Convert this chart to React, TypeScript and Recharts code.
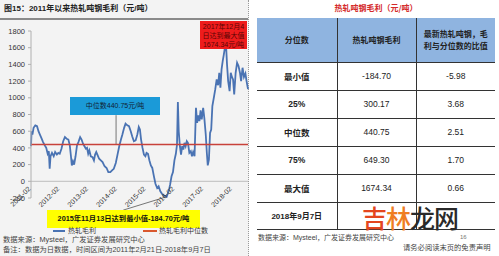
import React from 'react';
import { LineChart, Line, XAxis, YAxis, ReferenceLine } from 'recharts';

// ---- data (fractional year, gross profit per ton, CNY) ----
const timeYears = [
  2011.14, 2011.16, 2011.19, 2011.23, 2011.29, 2011.35, 2011.40, 2011.45, 2011.50, 2011.56,
  2011.62, 2011.67, 2011.72, 2011.76, 2011.79, 2011.82, 2011.87, 2011.93, 2011.98, 2012.04,
  2012.09, 2012.14, 2012.20, 2012.26, 2012.32, 2012.38, 2012.44, 2012.49, 2012.53, 2012.56,
  2012.60, 2012.64, 2012.69, 2012.74, 2012.79, 2012.85, 2012.90, 2012.95, 2013.00, 2013.05,
  2013.09, 2013.13, 2013.17, 2013.22, 2013.28, 2013.33, 2013.37, 2013.41, 2013.46, 2013.51,
  2013.57, 2013.63, 2013.70, 2013.77, 2013.83, 2013.90, 2013.96, 2014.02, 2014.09, 2014.15,
  2014.21, 2014.27, 2014.32, 2014.38, 2014.43, 2014.49, 2014.55, 2014.61, 2014.66, 2014.72,
  2014.78, 2014.84, 2014.89, 2014.93, 2014.97, 2015.02, 2015.07, 2015.12, 2015.16, 2015.21,
  2015.26, 2015.31, 2015.36, 2015.41, 2015.47, 2015.53, 2015.58, 2015.64, 2015.70, 2015.76,
  2015.86, 2015.93, 2015.98, 2016.03, 2016.08, 2016.13, 2016.18, 2016.22, 2016.25, 2016.28,
  2016.32, 2016.36, 2016.40, 2016.44, 2016.48, 2016.52, 2016.56, 2016.60, 2016.65, 2016.70,
  2016.74, 2016.78, 2016.83, 2016.88, 2016.92, 2016.96, 2017.00, 2017.04, 2017.08, 2017.13,
  2017.17, 2017.22, 2017.26, 2017.29, 2017.33, 2017.37, 2017.41, 2017.45, 2017.50, 2017.55,
  2017.60, 2017.65, 2017.69, 2017.73, 2017.77, 2017.81, 2017.85, 2017.92, 2017.96, 2018.00,
  2018.05, 2018.09, 2018.13, 2018.17, 2018.21, 2018.26, 2018.31, 2018.36, 2018.41, 2018.45,
  2018.50, 2018.55, 2018.60, 2018.64, 2018.69,
];
const grossProfit = [
  420, 600, 560, 640, 670, 660, 600, 560, 520, 470,
  430, 400, 330, 360, 150, 300, 340, 300, 350, 320,
  340, 330, 390, 480, 530, 510, 500, 430, 300, 190,
  240, 200, 300, 430, 470, 530, 500, 450, 420, 390,
  400, 330, 370, 300, 290, 250, 320, 350, 310, 270,
  250, 230, 180, 160, 110, 110, 130, 150, 220, 320,
  420, 500, 560, 640, 690, 670, 660, 600, 540, 480,
  490, 560, 650, 620, 500, 400, 320, 300, 340, 330,
  250, 190, 160, 70, -30, -80, -60, -120, -150, -170,
  -184.7, -120, -40, 60, 110, 250, 330, 440, 950, 600,
  420, 320, 420, 380, 460, 420, 480, 460, 340, 360,
  300, 350, 300, 880, 700, 790, 720, 850, 740, 880,
  760, 560, 330, 190, 260, 580, 620, 900, 1000, 1100,
  1220, 1150, 1300, 1120, 1340, 1440, 1520, 1674.34, 1400, 1200,
  1080, 1300, 1250, 1220, 1040, 1300, 1420, 1380, 1300, 1200,
  1360, 1250, 1290, 1200, 1104.5,
];
const medianValue = 440.75;
const xTicks = [2011.14, 2012.14, 2013.14, 2014.14, 2015.14, 2016.14, 2017.14, 2018.14];
const xTickLabels = ['2011-02', '2012-02', '2013-02', '2014-02', '2015-02', '2016-02', '2017-02', '2018-02'];
const yTicks = [-200, 0, 200, 400, 600, 800, 1000, 1200, 1400, 1600, 1800];

const tableHeader = ['分位数', '热轧吨钢毛利', '最新热轧吨钢，毛\n利与分位数的比值'];
const rowLabels = ['最小值', '25%', '中位数', '75%', '最大值', '2018年9月7日'];
const rowProfit = ['-184.70', '300.17', '440.75', '649.30', '1674.34', ''];
const rowRatio = ['-5.98', '3.68', '2.51', '1.70', '0.66', ''];

const data = timeYears.map((t, i) => ({ t, v: grossProfit[i] }));

// ---- layout ----
const Y_MIN = -200;
const Y_MAX = 1800;
const PLOT_TOP = 31;
const PLOT_H = 167;
const ZERO_Y = PLOT_TOP + (PLOT_H * (Y_MAX - 0)) / (Y_MAX - Y_MIN);

const MIX = '"Liberation Sans", "Noto Sans CJK SC", Arial, sans-serif';
const CJK = '"Noto Sans CJK SC", "Liberation Sans", sans-serif';

const XTick = (props: any) => {
  const { x, payload } = props;
  const idx = xTicks.indexOf(payload.value);
  const y = ZERO_Y + 8;
  return (
    <text
      x={x}
      y={y}
      transform={`rotate(-45 ${x} ${y})`}
      textAnchor="end"
      fontSize={7}
      fontFamily={MIX}
      fill="#333"
    >
      {xTickLabels[idx]}
    </text>
  );
};

const abs = (l: number, t: number, extra: React.CSSProperties = {}): React.CSSProperties => ({
  position: 'absolute',
  left: l,
  top: t,
  ...extra,
});

const cellBase: React.CSSProperties = {
  padding: 0,
  textAlign: 'center',
  verticalAlign: 'middle',
  color: '#222',
};

export default function App() {
  return (
    <div style={{ position: 'absolute', left: 0, top: 0, width: 499, height: 256, background: '#fff', overflow: 'hidden' }}>
      {/* left panel */}
      <div style={abs(0, 0, { width: 249, height: 256, background: '#f3f3f3' })} />
      <div style={abs(248, 0, { width: 0, height: 256, borderLeft: '1px dotted #9a9a9a' })} />
      <div style={abs(4, 3, { fontFamily: MIX, fontSize: 8, fontWeight: 700, color: '#222', whiteSpace: 'nowrap', lineHeight: '12px' })}>
        图15：2011年以来热轧吨钢毛利（元/吨）
      </div>
      <div style={abs(0, 18, { width: 248, height: 2, background: '#8a8a8a' })} />

      <div style={abs(0, 0)}>
        <LineChart width={249} height={256} data={data} margin={{ top: PLOT_TOP, right: 1, bottom: 28, left: 0 }}>
          <XAxis
            dataKey="t"
            type="number"
            domain={[2011.14, 2018.69]}
            ticks={xTicks}
            tick={<XTick />}
            axisLine={false}
            tickLine={false}
            height={30}
            interval={0}
          />
          <YAxis
            type="number"
            domain={[Y_MIN, Y_MAX]}
            ticks={yTicks}
            width={31}
            interval={0}
            tickSize={3}
            tickMargin={3}
            axisLine={{ stroke: '#b0b0b0' }}
            tickLine={{ stroke: '#b0b0b0' }}
            tick={{ fontSize: 7.5, fill: '#333', fontFamily: MIX }}
          />
          <ReferenceLine y={0} stroke="#bdbdbd" strokeWidth={1} />
          <ReferenceLine
            segment={[{ x: 2014.1, y: 792 }, { x: 2014.1, y: medianValue }]}
            stroke="#555"
            strokeWidth={0.8}
          />
          <ReferenceLine
            segment={[{ x: 2014.35, y: -345 }, { x: 2015.86, y: -184.7 }]}
            stroke="#555"
            strokeWidth={0.8}
            ifOverflow="visible"
          />
          <Line
            type="linear"
            dataKey="v"
            stroke="#4a73b3"
            strokeWidth={1.8}
            dot={false}
            isAnimationActive={false}
          />
          <ReferenceLine y={medianValue} stroke="#c8413a" strokeWidth={1.5} />
        </LineChart>
      </div>

      {/* annotations */}
      <div style={abs(200, 21, { width: 47, height: 28, background: '#ee1c1c', color: '#5a0505', fontFamily: MIX, fontSize: 7, lineHeight: '9px', textAlign: 'center', whiteSpace: 'nowrap', overflow: 'hidden', paddingTop: 1, boxSizing: 'border-box' })}>
        2017年12月4<br />日达到最大值<br />1674.34元/吨
      </div>
      <div style={abs(70, 97, { width: 90, height: 18, background: '#1b9ad8', color: '#123', fontFamily: MIX, fontSize: 7, lineHeight: '18px', textAlign: 'center', whiteSpace: 'nowrap' })}>
        中位数440.75元/吨
      </div>
      <div style={abs(47, 210, { width: 153, height: 18, background: '#ffff00', color: '#111', fontFamily: MIX, fontSize: 7.3, fontWeight: 700, lineHeight: '18px', textAlign: 'center', whiteSpace: 'nowrap' })}>
        2015年11月13日达到最小值-184.70元/吨
      </div>

      {/* legend */}
      <div style={abs(53, 230, { width: 12, height: 1.5, background: '#4a73b3' })} />
      <div style={abs(68, 225, { fontFamily: CJK, fontSize: 7, lineHeight: '11px', color: '#333', whiteSpace: 'nowrap' })}>热轧毛利</div>
      <div style={abs(143, 230, { width: 14, height: 1.5, background: '#d9582e' })} />
      <div style={abs(159, 225, { fontFamily: CJK, fontSize: 7, lineHeight: '11px', color: '#333', whiteSpace: 'nowrap' })}>热轧毛利中位数</div>

      {/* footnotes */}
      <div style={abs(3, 235, { fontFamily: MIX, fontSize: 7.3, lineHeight: '10px', color: '#444', whiteSpace: 'nowrap' })}>
        数据来源：Mysteel，广发证券发展研究中心
      </div>
      <div style={abs(3, 245, { fontFamily: MIX, fontSize: 7.3, lineHeight: '10px', color: '#444', whiteSpace: 'nowrap' })}>
        备注：数据为日数据，时间区间为2011年2月21日-2018年9月7日
      </div>

      {/* right panel */}
      <div style={abs(257, 2, { width: 238, textAlign: 'center', fontFamily: CJK, fontSize: 8, fontWeight: 700, lineHeight: '12px', color: '#d42a2a', whiteSpace: 'nowrap' })}>
        热轧吨钢毛利（元/吨）
      </div>
      <table
        style={abs(257, 18, {
          width: 238,
          borderCollapse: 'collapse',
          tableLayout: 'fixed',
          fontFamily: MIX,
          fontSize: 8.5,
        })}
      >
        <colgroup>
          <col style={{ width: 80 }} />
          <col style={{ width: 79 }} />
          <col style={{ width: 79 }} />
        </colgroup>
        <tbody>
          <tr style={{ height: 44, background: '#8fb4e0' }}>
            {tableHeader.map((h, i) => (
              <td
                key={i}
                style={{
                  ...cellBase,
                  fontFamily: CJK,
                  fontSize: 8,
                  fontWeight: 700,
                  lineHeight: '12px',
                  whiteSpace: 'pre',
                  borderBottom: '1px solid #333',
                  borderLeft: i > 0 ? '1px solid #333' : 'none',
                }}
              >
                {h}
              </td>
            ))}
          </tr>
          {rowLabels.map((lab, r) => (
            <tr key={r} style={{ height: r === 5 ? 27 : 28 }}>
              <td style={{ ...cellBase, fontWeight: 700, fontFamily: MIX, fontSize: r === 5 ? 8 : 8.5, borderBottom: '1px solid #333', whiteSpace: 'nowrap' }}>{lab}</td>
              <td style={{ ...cellBase, borderBottom: '1px solid #333', borderLeft: '1px solid #333' }}>{rowProfit[r]}</td>
              <td style={{ ...cellBase, borderBottom: '1px solid #333', borderLeft: '1px solid #333' }}>{rowRatio[r]}</td>
            </tr>
          ))}
        </tbody>
      </table>

      {/* watermark */}
      <div style={abs(362, 203, { fontFamily: CJK, fontSize: 25, fontWeight: 500, lineHeight: '28px', whiteSpace: 'nowrap', letterSpacing: -1 })}>
        <span style={{ color: '#e4461e' }}>吉</span>
        <span style={{ color: '#ef7d22' }}>林</span>
        <span style={{ color: '#2a2a2a' }}>龙网</span>
      </div>

      <div style={abs(258, 233, { fontFamily: MIX, fontSize: 7, lineHeight: '10px', color: '#444', whiteSpace: 'nowrap' })}>
        数据来源：Mysteel，广发证券发展研究中心
      </div>
      <div style={abs(460, 233, { fontFamily: MIX, fontSize: 6, lineHeight: '8px', color: '#777' })}>16</div>
      <div style={abs(403, 243, { fontFamily: MIX, fontSize: 7.3, lineHeight: '10px', color: '#444', whiteSpace: 'nowrap' })}>
        请务必阅读末页的免责声明
      </div>
    </div>
  );
}
